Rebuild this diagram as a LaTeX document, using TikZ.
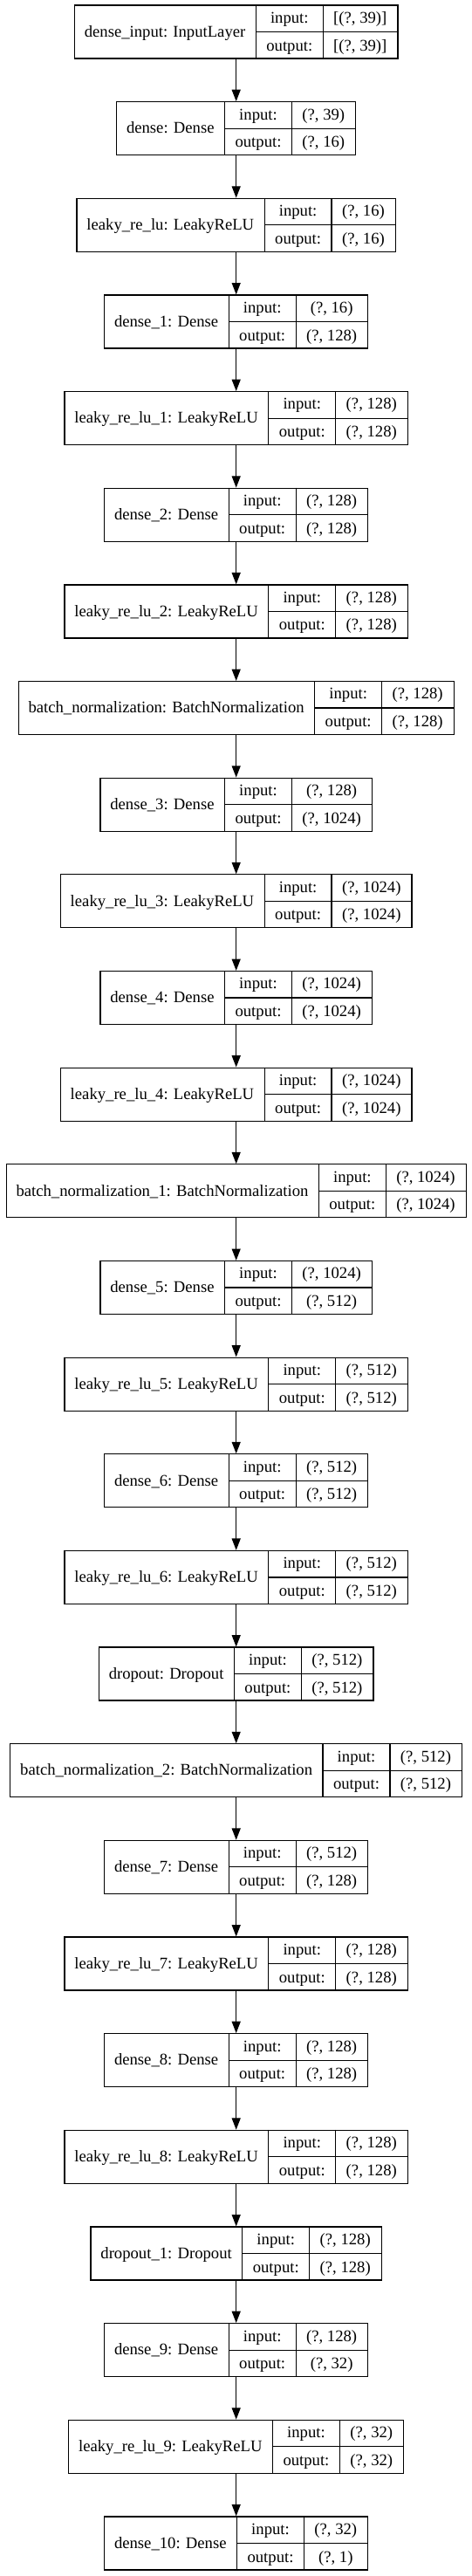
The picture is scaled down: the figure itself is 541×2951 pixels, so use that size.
\documentclass[tikz,border=0pt]{standalone}
\usepackage{fontspec}
\setmainfont{Liberation Serif}
\usetikzlibrary{arrows.meta}
\newdimen\lwa \newdimen\lwb \newdimen\lwc \newdimen\lwcc \newdimen\lwt
\font\lfnt="Liberation Serif" at 14pt
\tikzset{
  layerbox/.style={draw, line width=0.9pt, inner sep=0pt, minimum height=45.75pt, fill=white},
  cell/.style={inner sep=0pt, text height=11pt, text depth=2.4pt, font=\lfnt},
  flow/.style={-{Triangle[length=10pt,width=7.5pt]}, line width=0.9pt},
  grid/.style={line width=0.9pt},
}
\newcommand\klayer[5]{%
  \setbox0=\hbox{\lfnt #3}\lwa=\wd0 \advance\lwa by 18pt
  \setbox0=\hbox{\lfnt output:}\lwb=\wd0 \advance\lwb by 18pt
  \setbox0=\hbox{\lfnt #4}\lwc=\wd0
  \setbox0=\hbox{\lfnt #5}\lwcc=\wd0
  \ifdim\lwcc>\lwc \lwc=\lwcc\fi \advance\lwc by 18pt
  \lwt=\lwa \advance\lwt by \lwb \advance\lwt by \lwc
  \pgfmathsetmacro\ycen{36.5+110.65*#2}%
  \node[layerbox, minimum width=\lwt] (#1) at (270.7,\ycen) {};
  \draw[grid] ([xshift=\lwa]#1.north west) -- ([xshift=\lwa]#1.south west);
  \draw[grid] ([xshift={\lwa+\lwb}]#1.north west) -- ([xshift={\lwa+\lwb}]#1.south west);
  \draw[grid] ([xshift=\lwa]#1.west) -- (#1.east);
  \node[cell] at ([xshift={0.5*\lwa}]#1.west) {#3};
  \node[cell] at ([xshift={\lwa+0.5*\lwb}, yshift=-11.4375pt]#1.north west) {input:};
  \node[cell] at ([xshift={\lwa+0.5*\lwb}, yshift=11.4375pt]#1.south west) {output:};
  \node[cell] at ([xshift={\lwa+\lwb+0.5*\lwc}, yshift=-11.4375pt]#1.north west) {#4};
  \node[cell] at ([xshift={\lwa+\lwb+0.5*\lwc}, yshift=11.4375pt]#1.south west) {#5};
}
\begin{document}
\begin{tikzpicture}[x=0.75pt, y=-0.75pt]
\useasboundingbox (0,0) rectangle (541,2951);
\klayer{L0}{0}{dense\_input: InputLayer}{[(?, 39)]}{[(?, 39)]}
\klayer{L1}{1}{dense: Dense}{(?, 39)}{(?, 16)}
\klayer{L2}{2}{leaky\_re\_lu: LeakyReLU}{(?, 16)}{(?, 16)}
\klayer{L3}{3}{dense\_1: Dense}{(?, 16)}{(?, 128)}
\klayer{L4}{4}{leaky\_re\_lu\_1: LeakyReLU}{(?, 128)}{(?, 128)}
\klayer{L5}{5}{dense\_2: Dense}{(?, 128)}{(?, 128)}
\klayer{L6}{6}{leaky\_re\_lu\_2: LeakyReLU}{(?, 128)}{(?, 128)}
\klayer{L7}{7}{batch\_normalization: BatchNormalization}{(?, 128)}{(?, 128)}
\klayer{L8}{8}{dense\_3: Dense}{(?, 128)}{(?, 1024)}
\klayer{L9}{9}{leaky\_re\_lu\_3: LeakyReLU}{(?, 1024)}{(?, 1024)}
\klayer{L10}{10}{dense\_4: Dense}{(?, 1024)}{(?, 1024)}
\klayer{L11}{11}{leaky\_re\_lu\_4: LeakyReLU}{(?, 1024)}{(?, 1024)}
\klayer{L12}{12}{batch\_normalization\_1: BatchNormalization}{(?, 1024)}{(?, 1024)}
\klayer{L13}{13}{dense\_5: Dense}{(?, 1024)}{(?, 512)}
\klayer{L14}{14}{leaky\_re\_lu\_5: LeakyReLU}{(?, 512)}{(?, 512)}
\klayer{L15}{15}{dense\_6: Dense}{(?, 512)}{(?, 512)}
\klayer{L16}{16}{leaky\_re\_lu\_6: LeakyReLU}{(?, 512)}{(?, 512)}
\klayer{L17}{17}{dropout: Dropout}{(?, 512)}{(?, 512)}
\klayer{L18}{18}{batch\_normalization\_2: BatchNormalization}{(?, 512)}{(?, 512)}
\klayer{L19}{19}{dense\_7: Dense}{(?, 512)}{(?, 128)}
\klayer{L20}{20}{leaky\_re\_lu\_7: LeakyReLU}{(?, 128)}{(?, 128)}
\klayer{L21}{21}{dense\_8: Dense}{(?, 128)}{(?, 128)}
\klayer{L22}{22}{leaky\_re\_lu\_8: LeakyReLU}{(?, 128)}{(?, 128)}
\klayer{L23}{23}{dropout\_1: Dropout}{(?, 128)}{(?, 128)}
\klayer{L24}{24}{dense\_9: Dense}{(?, 128)}{(?, 32)}
\klayer{L25}{25}{leaky\_re\_lu\_9: LeakyReLU}{(?, 32)}{(?, 32)}
\klayer{L26}{26}{dense\_10: Dense}{(?, 32)}{(?, 1)}
\foreach \a [remember=\a as \b (initially 0)] in {1,...,26}{
  \draw[flow] (L\b.south) -- (L\a.north);
}
\end{tikzpicture}
\end{document}
